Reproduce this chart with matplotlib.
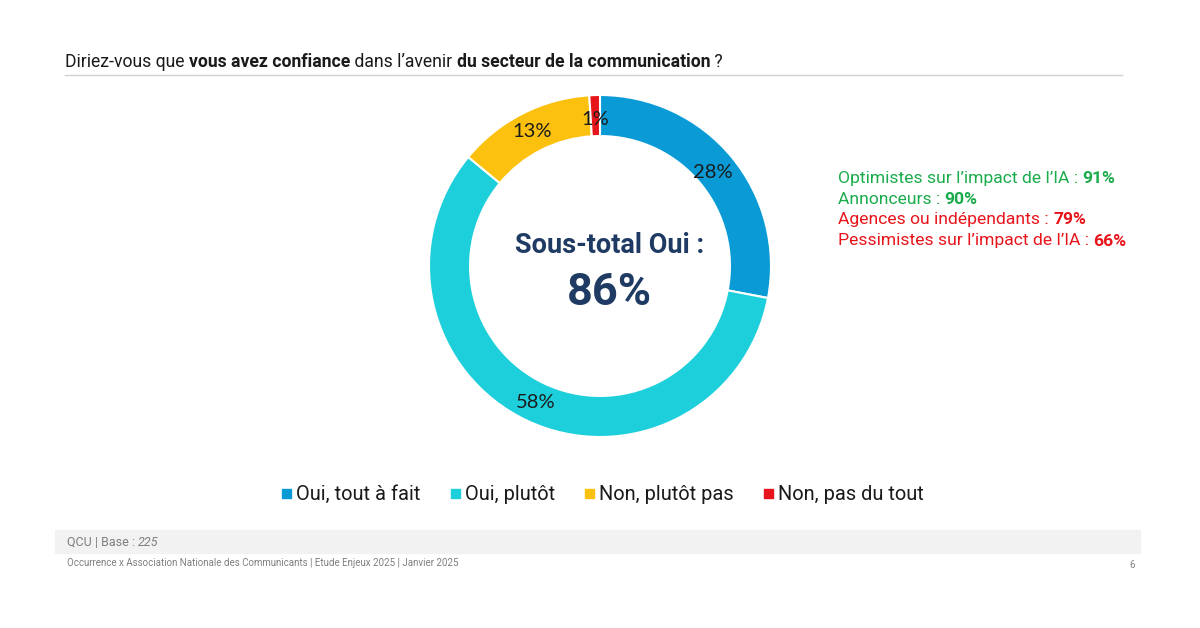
import matplotlib
matplotlib.use("Agg")
import matplotlib.pyplot as plt
from matplotlib.patches import Rectangle
import numpy as np

# Data
categories = ['Oui, tout à fait', 'Oui, plutôt', 'Non, plutôt pas', 'Non, pas du tout']
values = [28, 58, 13, 1]
colors = ['#0a9bd6', '#1dcfdb', '#fcc10e', '#e8141b']
subtotal_label = 'Sous-total Oui :'
subtotal_value = '86%'

segments = ['Optimistes sur l’impact de l’IA : ', 'Annonceurs : ',
            'Agences ou indépendants : ', 'Pessimistes sur l’impact de l’IA : ']
segment_values = ['91%', '90%', '79%', '66%']
segment_colors = ['#1aab4b', '#1aab4b', '#e8141b', '#e8141b']

title_parts = [('Diriez-vous que ', 'normal'), ('vous avez confiance', 'bold'),
               (' dans l’avenir ', 'normal'), ('du secteur de la communication', 'bold'),
               (' ?', 'normal')]

W, H = 1200, 628
fig = plt.figure(figsize=(W / 100, H / 100), dpi=100)
fig.patch.set_facecolor('white')
plt.rcParams['font.family'] = ['Roboto', 'DejaVu Sans']


def px(x, y):
    return x / W, 1 - y / H


def text_run(parts, x, y, size, color, renderer):
    # draw a sequence of text pieces with different weights on one line
    for s, weight, *extra in parts:
        c = extra[0] if extra else color
        style = extra[1] if len(extra) > 1 else 'normal'
        t = fig.text(*px(x, y), s, fontsize=size, fontweight=weight, color=c,
                     fontstyle=style, va='center', ha='left')
        bb = t.get_window_extent(renderer=renderer)
        x += bb.width


renderer = fig.canvas.get_renderer()

# Title and rule
text_run(title_parts, 65, 62, 12.7, '#1a1a1a', renderer)
fig.add_artist(plt.Line2D([65 / W, 1122 / W], [1 - 75 / H, 1 - 75 / H],
                          color='#d0d0d0', lw=1))

# Donut
cx, cy, r = 600, 266, 171
ax = fig.add_axes([(cx - r) / W, (H - cy - r) / H, 2 * r / W, 2 * r / H])
wedges, _ = ax.pie(values, colors=colors, startangle=90, counterclock=False,
                   radius=1, wedgeprops=dict(width=0.24, edgecolor='white', linewidth=1.5))
ax.set_xlim(-1, 1)
ax.set_ylim(-1, 1)
ax.axis('off')

# Labels on the ring
label_pos = [0.86, 0.88, 0.88, 0.86]
cum = 0
for v, lp in zip(values, label_pos):
    mid = 90 - (cum + v / 2) / 100 * 360
    cum += v
    a = np.deg2rad(mid)
    ax.text(lp * np.cos(a), lp * np.sin(a), f'{v}%', ha='center', va='center',
            fontsize=14.5, color='#1a1a1a', family=['Lato', 'DejaVu Sans'])

ax.text(0.053, 0.12, subtotal_label, ha='center', va='center', fontsize=19.5,
        fontweight='bold', color='#1f3b64')
ax.text(0.053, -0.16, subtotal_value, ha='center', va='center', fontsize=32.5,
        fontweight='bold', color='#1f3b64')

# Segment highlights
for i, (s, v, c) in enumerate(zip(segments, segment_values, segment_colors)):
    text_run([(s, 'normal', c), (v, 'bold', c)], 838, 178 + i * 21, 12.6, c, renderer)

# Legend
leg_x = [287, 456, 590, 769]
for x, lab, c in zip(leg_x, categories, colors):
    fig.add_artist(Rectangle(px(x - 5, 498), 9 / W, 9 / H, color=c,
                             transform=fig.transFigure))
    fig.text(*px(x + 9, 494), lab, fontsize=14.4, color='#1a1a1a', va='center', ha='left')

# Footer
fig.add_artist(Rectangle(px(55, 553), 1085 / W, 23 / H, color='#f2f2f2',
                         transform=fig.transFigure, zorder=0))
text_run([('QCU | Base : ', 'normal'), ('225', 'normal', '#7f7f7f', 'italic')],
         67, 542, 9, '#7f7f7f', renderer)
fig.text(*px(67, 563), 'Occurrence x Association Nationale des Communicants | Etude Enjeux 2025 | Janvier 2025',
         fontsize=7, color='#7f7f7f', va='center', ha='left')
fig.text(*px(1135, 565), '6', fontsize=7, color='#7f7f7f', va='center', ha='right')

fig.savefig('out.png', dpi=100, facecolor='white')
